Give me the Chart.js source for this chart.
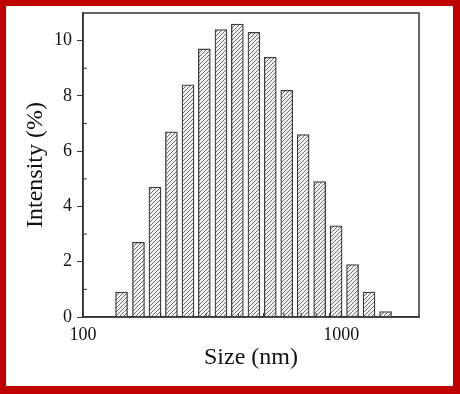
<!DOCTYPE html>
<html>
<head>
<meta charset="utf-8">
<script src="https://cdn.jsdelivr.net/npm/chart.js@4"></script>
<style>
  html, body { margin: 0; padding: 0; background: #ffffff; }
  #frame {
    box-sizing: border-box;
    width: 460px;
    height: 394px;
    border-style: solid;
    border-color: #c00000;
    border-width: 6px 7px 8px 6px;
    background: #ffffff;
  }
  canvas { display: block; }
</style>
</head>
<body>
<div id="frame"><canvas id="dls-chart" width="447" height="380"></canvas></div>
<script>
// particle size bins (nm) and intensity (%)
const sizes = [141, 164, 190, 220, 255, 295, 342, 396, 459, 531, 615, 712, 825, 955, 1106, 1281, 1484];
const intensity = [0.9, 2.7, 4.7, 6.7, 8.4, 9.7, 10.4, 10.6, 10.3, 9.4, 8.2, 6.6, 4.9, 3.3, 1.9, 0.9, 0.2];

const xTicks = [100, 1000];
const xMinorTicks = [200, 300, 400, 500, 600, 700, 800, 900];
const yTicks = [0, 2, 4, 6, 8, 10];
const yMinorTicks = [1, 3, 5, 7, 9];

const axisColor = '#333333';
const serif = '"Liberation Serif", "DejaVu Serif", serif';

const ctx = document.getElementById('dls-chart').getContext('2d');

function hatchPattern() {
  const c = document.createElement('canvas');
  c.width = 4;
  c.height = 4;
  const g = c.getContext('2d');
  g.fillStyle = '#f2f2f2';
  g.fillRect(0, 0, 4, 4);
  g.strokeStyle = '#6e6e6e';
  g.lineWidth = 1;
  g.beginPath();
  g.moveTo(0, 4); g.lineTo(4, 0);
  g.moveTo(-1, 1); g.lineTo(1, -1);
  g.moveTo(3, 5); g.lineTo(5, 3);
  g.stroke();
  return ctx.createPattern(c, 'repeat');
}

// box around the plot plus the small inner ticks
const frameAndMinorTicks = {
  id: 'frameAndMinorTicks',
  afterDraw(chart) {
    const {left, right, top, bottom} = chart.chartArea;
    const x = chart.scales.x;
    const y = chart.scales.y;
    const c = chart.ctx;
    c.save();
    c.strokeStyle = axisColor;
    c.lineWidth = 1.5;
    c.strokeRect(left, top, right - left, bottom - top);
    c.lineWidth = 1;
    c.beginPath();
    for (const v of xTicks) {
      const px = x.getPixelForValue(v);
      c.moveTo(px, bottom); c.lineTo(px, bottom - 6);
    }
    for (const v of xMinorTicks) {
      const px = x.getPixelForValue(v);
      c.moveTo(px, bottom); c.lineTo(px, bottom - 4);
    }
    for (const v of yMinorTicks) {
      const py = y.getPixelForValue(v);
      c.moveTo(left, py); c.lineTo(left + 4, py);
    }
    c.stroke();
    c.restore();
  }
};

new Chart(ctx, {
  type: 'bar',
  plugins: [frameAndMinorTicks],
  data: {
    datasets: [
      {
        label: 'Intensity',
        data: sizes.map((s, i) => ({x: s, y: intensity[i]})),
        backgroundColor: hatchPattern(),
        borderColor: '#3c3c3c',
        borderWidth: 1.3,
        barThickness: 12,
      },
    ],
  },
  options: {
    responsive: false,
    animation: false,
    devicePixelRatio: 1,
    layout: {
      padding: {top: 7, right: 34, left: 0, bottom: 0},
    },
    scales: {
      x: {
        type: 'logarithmic',
        min: 100,
        max: 2000,
        afterBuildTicks: (scale) => {
          scale.ticks = xTicks.map(v => ({value: v}));
        },
        afterFit: (scale) => {
          scale.height = 69;
          scale.paddingLeft = 0;
          scale.paddingRight = 0;
        },
        grid: {
          drawOnChartArea: false,
          drawTicks: false,
        },
        border: {
          color: axisColor,
          width: 1.5,
        },
        ticks: {
          padding: 7,
          color: '#111111',
          font: {family: serif, size: 18},
          callback: (value) => String(value),
        },
        title: {
          display: true,
          text: 'Size (nm)',
          color: '#111111',
          font: {family: serif, size: 24},
          padding: {bottom: 14},
        },
      },
      y: {
        min: 0,
        max: 11,
        afterBuildTicks: (scale) => {
          scale.ticks = yTicks.map(v => ({value: v}));
        },
        afterFit: (scale) => {
          scale.width = 77;
          scale.paddingTop = 0;
          scale.paddingBottom = 0;
        },
        grid: {
          drawOnChartArea: false,
          drawTicks: true,
          tickLength: 6,
          color: axisColor,
        },
        border: {
          color: axisColor,
          width: 1.5,
        },
        ticks: {
          padding: 5,
          color: '#111111',
          font: {family: serif, size: 18},
        },
        title: {
          display: true,
          text: 'Intensity (%)',
          color: '#111111',
          font: {family: serif, size: 24},
          padding: {top: 15},
        },
      },
    },
    plugins: {
      legend: {display: false},
      tooltip: {enabled: false},
    },
  },
});
</script>
</body>
</html>
